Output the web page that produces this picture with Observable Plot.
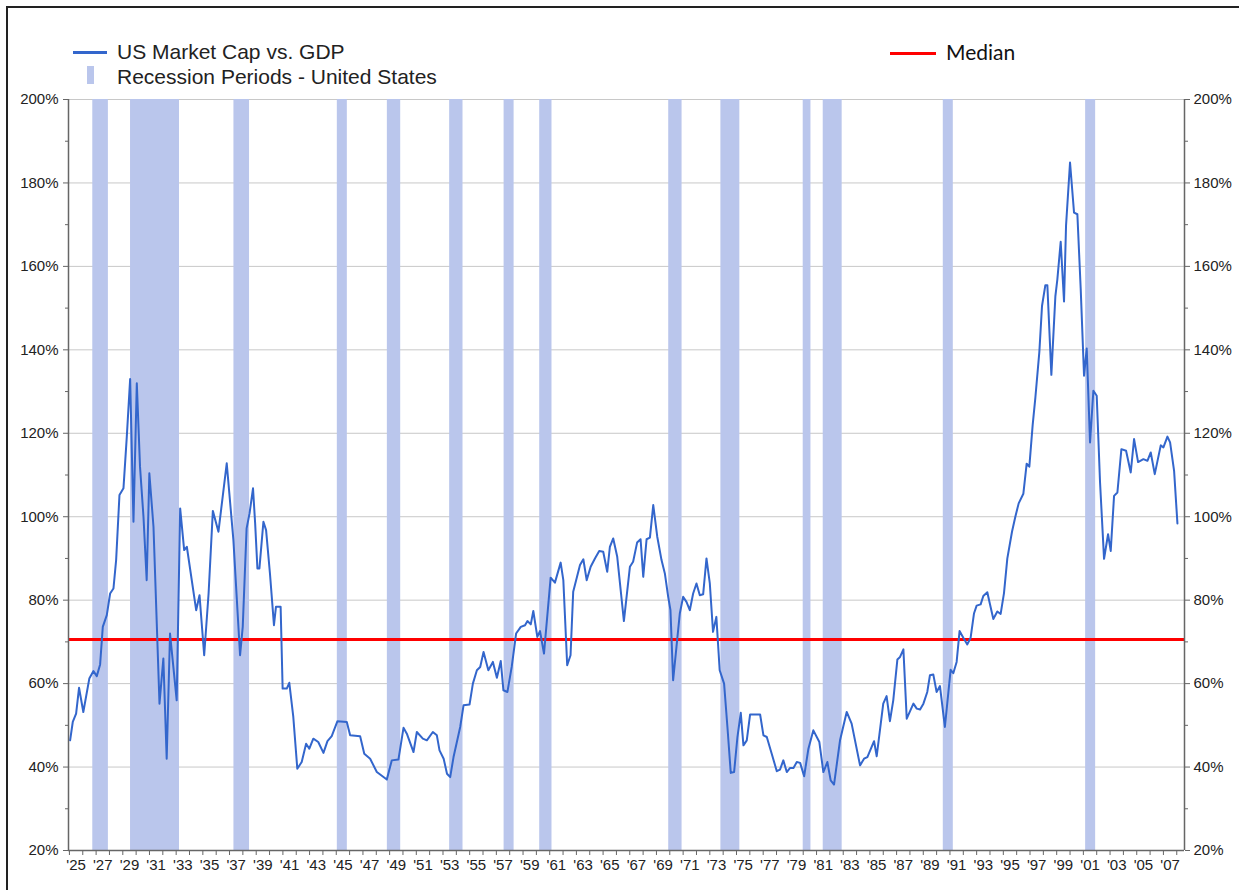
<!DOCTYPE html>
<html><head><meta charset="utf-8">
<script src="https://cdn.jsdelivr.net/npm/d3@7"></script>
<script src="https://cdn.jsdelivr.net/npm/@observablehq/plot@0.6"></script>
<style>
body{margin:0;background:#fff;}
#wrap{position:relative;width:1239px;height:890px;overflow:hidden;background:#fff;}
#chart{position:absolute;left:0;top:0;}
.frame{position:absolute;left:6px;top:6px;width:3000px;height:3000px;border-left:2px solid #222;border-top:2px solid #222;}
.lg{position:absolute;line-height:1;white-space:nowrap;color:#222;}
.t1{font-family:'Liberation Sans',Arial,sans-serif;font-size:21px;}
.t2{font-family:Lato,'Open Sans',sans-serif;font-size:21px;color:#111;}
.sw{position:absolute;}
</style></head><body>
<div id="wrap">
  <div id="chart"></div>
  <div class="frame"></div>
  <div class="sw" style="left:73px;top:51px;width:34px;height:3px;background:#3366cc"></div>
  <div class="lg t1" style="left:117px;top:41px">US Market Cap vs. GDP</div>
  <div class="sw" style="left:87px;top:66px;width:7px;height:18px;background:#bac6ec"></div>
  <div class="lg t1" style="left:117px;top:66px">Recession Periods - United States</div>
  <div class="sw" style="left:890px;top:52px;width:46px;height:3px;background:#ff0000"></div>
  <div class="lg t2" style="left:946px;top:41px">Median</div>
</div>
<script>
const years = [
1925.05,1925.25,1925.5,1925.72,1926.04,1926.49,1926.8,1927.05,1927.3,1927.5,1927.8,1928.05,1928.3,1928.5,1928.75,
1929.05,1929.3,1929.55,1929.8,1930.05,1930.29,1930.55,1930.79,1930.99,1931.3,1931.75,1932.04,1932.29,1932.54,1933.04,
1933.3,1933.6,1933.8,1934.5,1934.75,1935.1,1935.43,1935.75,1936.17,1936.79,1937.29,1937.79,1937.99,1938.28,1938.5,
1938.76,1938.92,1939.09,1939.24,1939.54,1939.74,1940.03,1940.33,1940.48,1940.83,1940.98,1941.29,1941.48,1941.78,1942.08,
1942.41,1942.74,1942.98,1943.28,1943.65,1944.04,1944.34,1944.66,1945.09,1945.79,1946.04,1946.79,1947.1,1947.54,1948.04,
1948.79,1949.16,1949.66,1950.04,1950.29,1950.79,1951.04,1951.49,1951.79,1952.24,1952.54,1952.74,1953.05,1953.3,1953.54,
1953.79,1954.29,1954.54,1954.99,1955.24,1955.54,1955.79,1956.04,1956.4,1956.74,1957.04,1957.33,1957.53,1957.83,1958.15,
1958.48,1958.83,1959.15,1959.33,1959.58,1959.77,1960.07,1960.27,1960.57,1961.07,1961.39,1961.82,1962.02,1962.31,1962.56,
1962.76,1963.27,1963.52,1963.77,1964.07,1964.39,1964.71,1965.01,1965.31,1965.51,1965.76,1966.06,1966.56,1967.01,1967.25,
1967.55,1967.81,1968.01,1968.26,1968.51,1968.76,1969.06,1969.38,1969.63,1969.88,1970.05,1970.25,1970.5,1970.75,1971.0,
1971.25,1971.5,1971.75,1972.0,1972.25,1972.5,1972.75,1973.0,1973.24,1973.49,1973.74,1974.07,1974.32,1974.57,1974.82,
1975.07,1975.32,1975.52,1975.77,1976.02,1976.77,1977.02,1977.27,1977.64,1978.02,1978.26,1978.51,1978.77,1979.02,1979.27,
1979.52,1979.77,1980.07,1980.39,1980.76,1981.21,1981.51,1981.81,1982.06,1982.31,1982.76,1983.26,1983.63,1984.26,1984.56,
1984.81,1985.31,1985.51,1986.0,1986.25,1986.5,1986.75,1987.06,1987.26,1987.51,1987.76,1988.26,1988.51,1988.76,1989.01,
1989.3,1989.5,1989.75,1990.0,1990.25,1990.62,1991.05,1991.25,1991.5,1991.72,1992.0,1992.3,1992.55,1992.8,1993.0,
1993.3,1993.5,1993.8,1994.0,1994.25,1994.55,1994.8,1995.05,1995.3,1995.65,1995.9,1996.15,1996.5,1996.75,1996.95,
1997.2,1997.4,1997.7,1997.9,1998.15,1998.3,1998.6,1998.9,1999.05,1999.3,1999.55,1999.7,2000.0,2000.3,2000.55,
2000.8,2001.05,2001.25,2001.5,2001.75,2002.0,2002.25,2002.55,2002.85,2003.05,2003.3,2003.55,2003.85,2004.2,2004.55,
2004.8,2005.1,2005.5,2005.8,2006.05,2006.35,2006.8,2007.0,2007.3,2007.5,2007.8,2008.05
];
const marketCapToGdp = [
46.4,50.8,52.8,59.0,53.2,61.2,63.0,61.8,64.6,73.6,76.4,81.6,82.8,89.6,105.2,
106.8,119.2,133.0,98.8,132.0,112,100,84.8,110.4,97.6,55.2,66,42,72,56,
102,92,92.8,77.6,81.2,66.8,81.6,101.4,96.4,112.8,94.4,66.8,73.6,97.2,100.8,
106.8,98.4,87.6,87.6,98.8,96.8,86.4,74,78.4,78.4,58.8,58.8,60.2,52,39.6,
41.2,45.6,44.4,46.8,46,43.4,46.2,47.4,51,50.8,47.6,47.4,43.2,42,38.8,
37,41.6,41.8,49.4,48,43.6,48.4,46.8,46.4,48.4,47.6,44,42,38.4,37.6,
42.4,49.6,54.8,55,60,63.2,64,67.6,63.2,65.2,61.4,65.4,58.4,58,64,
72,73.6,74,75,74.2,77.4,71.2,72.6,67.2,85.4,84.2,89,84.8,64.4,66.8,
82,88.4,89.8,84.8,88,90,91.8,91.6,86.8,92.8,94.8,90.4,75,88,89.2,
93.8,94.6,85.6,94.6,95,102.8,95.2,89.6,86.4,80.8,77.6,60.8,68.8,76.8,80.8,
79.6,77.6,81.6,84,81.2,81.4,90,84,72.4,76,63.2,60,49.6,38.6,38.8,
47.2,53,45.2,46.4,52.6,52.6,47.6,47.2,43.2,39,39.4,41.6,38.8,39.8,39.8,
41.2,41,37.8,44.4,48.8,46,38.8,41.2,36.8,35.8,46.4,53.2,50.4,40.4,42,
42.4,46.2,42.6,55.2,57,51,56,65.8,66.4,68.2,51.6,55.2,54,53.8,55.2,
58,62,62.2,58,59.4,49.6,63.3,62.5,65.2,72.6,71,69.4,71,76.8,78.7,
79,81,81.9,79,75.5,77.3,76.7,81.7,90,96.4,100,103.2,105.5,112.7,112,
122,128.5,139.5,150.5,155.5,155.5,134,152.8,156.9,165.9,151.6,169.7,184.9,172.9,172.5,
154.6,133.8,140.3,117.8,130.2,129,108.2,89.9,95.8,91.8,105,105.8,116.2,115.8,110.6,
118.6,113.1,113.8,113.4,115.4,110.2,117.1,116.6,119.2,117.8,111,98.4
];
const recessionStart = [1926.75,1929.58,1937.33,1945.08,1948.83,1953.5,1957.58,1960.25,1969.92,1973.83,1980.0,1981.5,1990.5,2001.17];
const recessionEnd   = [1927.92,1933.25,1938.5,1945.83,1949.83,1954.5,1958.33,1961.17,1970.92,1975.25,1980.58,1982.92,1991.25,2001.92];
const medianValue = 70.6;
const xDomain = [1924.93, 2008.58];
const yDomain = [20, 200];
const yMajorTicks = [20, 40, 60, 80, 100, 120, 140, 160, 180, 200];
const yMinorTicks = [30, 50, 70, 90, 110, 130, 150, 170, 190];
const yearTicks = d3.range(1925, 2009);
const labelYears = [1925,1927,1929,1931,1933,1935,1937,1939,1941,1943,1945,1947,1949,1951,1953,1955,1957,1959,1961,1963,1965,1967,1969,1971,1973,1975,1977,1979,1981,1983,1985,1987,1989,1991,1993,1995,1997,1999,2001,2003,2005,2007];
const tickLabels = labelYears.map(y => "'" + String(y).slice(2));

const series = years.map((y, i) => ({year: y, value: marketCapToGdp[i]}));
const recessions = recessionStart.map((s, i) => ({start: s, end: recessionEnd[i]}));
const labelMap = new Map(labelYears.map((y, i) => [y + 0.5, tickLabels[i]]));
const axisColor = "#666";
const pct = d => d + "%";

const chart = Plot.plot({
  width: 1239, height: 890,
  marginLeft: 68, marginRight: 55, marginTop: 99, marginBottom: 40,
  x: {domain: xDomain, label: null},
  y: {domain: yDomain, label: null},
  style: {fontFamily: "'Liberation Sans', Arial, sans-serif", fontSize: "15px", color: "#222", background: "transparent", overflow: "visible"},
  marks: [
    Plot.gridY({ticks: yMajorTicks, stroke: "#c8c8c8", strokeOpacity: 1, strokeWidth: 1}),
    Plot.rect(recessions, {x1: "start", x2: "end", y1: yDomain[0], y2: yDomain[1], fill: "#bac6ec"}),
    Plot.ruleY([medianValue], {stroke: "#ff0000", strokeWidth: 3}),
    Plot.line(series, {x: "year", y: "value", stroke: "#3366cc", strokeWidth: 2}),
    Plot.ruleX(xDomain, {stroke: axisColor, strokeWidth: 1.5}),
    Plot.ruleY([yDomain[0]], {stroke: axisColor, strokeWidth: 1.5}),
    Plot.axisY({anchor: "left", ticks: yMajorTicks, tickFormat: pct, tickSize: 5, tickPadding: 5, stroke: axisColor, label: null}),
    Plot.axisY({anchor: "left", ticks: yMinorTicks, tickFormat: () => "", tickSize: 3, stroke: axisColor, label: null}),
    Plot.axisY({anchor: "right", ticks: yMajorTicks, tickFormat: pct, tickSize: 5, tickPadding: 4, stroke: axisColor, label: null}),
    Plot.axisY({anchor: "right", ticks: yMinorTicks, tickFormat: () => "", tickSize: 3, stroke: axisColor, label: null}),
    Plot.axisX({ticks: yearTicks, tickFormat: () => "", tickSize: 5, stroke: axisColor, label: null}),
    Plot.axisX({ticks: [...labelMap.keys()], tickFormat: d => labelMap.get(d), tickSize: 0, tickPadding: 9, label: null})
  ]
});
document.getElementById("chart").appendChild(chart);
</script>
</body></html>
